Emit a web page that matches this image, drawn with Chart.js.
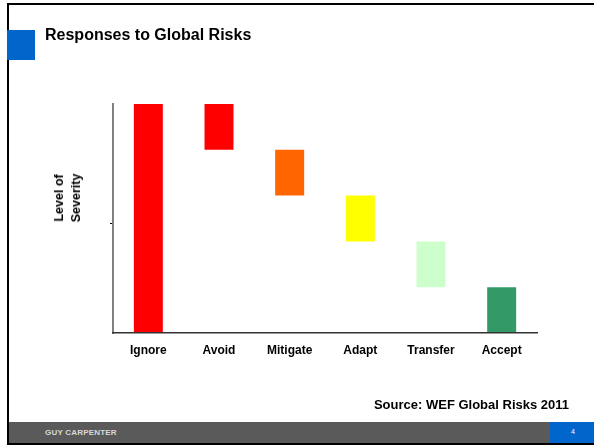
<!DOCTYPE html>
<html>
<head>
<meta charset="utf-8">
<script src="https://cdn.jsdelivr.net/npm/chart.js@4/dist/chart.umd.min.js"></script>
<style>
  html, body { margin:0; padding:0; background:#fff; }
  body { width:594px; height:445px; position:relative; overflow:hidden; font-family:"Liberation Sans", Arial, sans-serif; }
  #wrap { position:absolute; left:0; top:0; width:594px; height:445px; }
  .abs { position:absolute; }
  #topline { left:7px; top:3px; width:587px; height:2px; background:#000; }
  #leftline { left:7px; top:3px; width:2px; height:442px; background:#000; }
  #bottomline { left:7px; top:443px; width:587px; height:2px; background:#000; }
  #bluesq { left:7px; top:30px; width:28px; height:30px; background:#0066cc; }
  #title { left:45px; top:26px; font-weight:bold; font-size:16px; line-height:18px; color:#000; white-space:nowrap; }
  #ytitle { left:68px; top:198px; transform:translate(-50%,-50%) rotate(-90deg); font-weight:bold; font-size:12.5px; line-height:17px; text-align:center; white-space:nowrap; color:#000; }
  #source { right:25px; top:397px; font-weight:bold; font-size:13px; line-height:16px; color:#000; white-space:nowrap; }
  #footer { left:9px; top:422px; width:541px; height:21px; background:#5a5a5a; }
  #footblue { left:550px; top:422px; width:44px; height:21px; background:#0066cc; }
  #foottext { left:45px; top:428px; font-weight:bold; font-size:8px; color:#d8d8d8; letter-spacing:0.2px; white-space:nowrap; }
  #pagenum { left:571px; top:428px; font-size:7px; color:#fff; }
</style>
</head>
<body>
<div id="wrap"><canvas id="c" width="594" height="445"></canvas></div>
<div class="abs" id="topline"></div>
<div class="abs" id="leftline"></div>
<div class="abs" id="bluesq"></div>
<div class="abs" id="title">Responses to Global Risks</div>
<div class="abs" id="ytitle">Level of<br>Severity</div>
<div class="abs" id="source">Source: WEF Global Risks 2011</div>
<div class="abs" id="footer"></div>
<div class="abs" id="footblue"></div>
<div class="abs" id="bottomline"></div>
<div class="abs" id="foottext">GUY CARPENTER</div>
<div class="abs" id="pagenum">4</div>
<script>
const categories = ["Ignore", "Avoid", "Mitigate", "Adapt", "Transfer", "Accept"];
const severityLow  = [0, 4, 3, 2, 1, 0];
const severityHigh = [5, 5, 4, 3, 2, 1];
const barColors = ["#ff0000", "#ff0000", "#ff6600", "#ffff00", "#ccffcc", "#339966"];
const yMin = 0;
const yMax = 5;
const yTickValues = [2.38];

const ranges = categories.map((c, i) => [severityLow[i], severityHigh[i]]);

new Chart(document.getElementById('c'), {
  type: 'bar',
  data: {
    labels: categories,
    datasets: [{
      data: ranges,
      backgroundColor: barColors,
      borderWidth: 0,
      categoryPercentage: 1,
      barPercentage: 0.41
    }]
  },
  options: {
    responsive: false,
    animation: false,
    events: [],
    layout: { padding: { left: 0, top: 104, right: 57, bottom: 0 } },
    plugins: { legend: { display: false }, tooltip: { enabled: false }, title: { display: false } },
    scales: {
      x: {
        afterFit: s => { s.height = 112; },
        grid: { display: false, drawTicks: false },
        border: { display: true, color: '#333333', width: 1.5, z: 1 },
        ticks: {
          padding: 10,
          color: '#000',
          font: { family: '"Liberation Sans", Arial, sans-serif', size: 12, weight: 'bold' }
        }
      },
      y: {
        min: yMin,
        max: yMax,
        afterFit: s => { s.width = 113; },
        afterBuildTicks: s => { s.ticks = yTickValues.map(v => ({ value: v })); },
        grid: { drawOnChartArea: false, drawTicks: true, tickLength: 3, color: '#000', lineWidth: 1 },
        border: { display: true, color: '#808080', width: 2 },
        ticks: { display: false }
      }
    }
  }
});
</script>
</body>
</html>
